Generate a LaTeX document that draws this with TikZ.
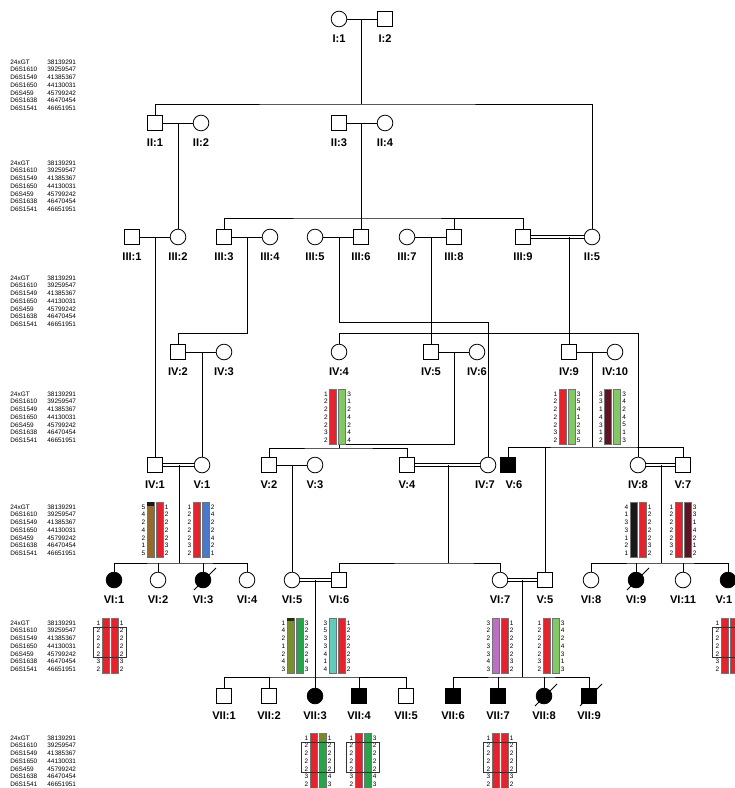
\documentclass[tikz,border=0pt]{standalone}
\usepackage{fontspec}
\setmainfont{Liberation Sans}

\definecolor{hred}{RGB}{230,35,45}
\definecolor{hlgreen}{RGB}{130,200,100}
\definecolor{hmaroon}{RGB}{95,20,35}
\definecolor{hbrown}{RGB}{150,105,45}
\definecolor{hblue}{RGB}{70,120,205}
\definecolor{hblack}{RGB}{25,25,25}
\definecolor{holive}{RGB}{120,145,45}
\definecolor{hgreen}{RGB}{40,165,75}
\definecolor{hturq}{RGB}{95,205,185}
\definecolor{hviolet}{RGB}{190,110,195}

% 个体: [标签偏移]{样式}{名}{x}{y}{标签}
\newcommand{\pers}[6][0]{%
  \node[#2] (#3) at (#4,#5) {};
  \node[lab] (l#3) at (#4+#1,#5+19.5) {#6};}

% 单倍型: {名}{x}{首行y}{左色}{右色}{左}{右}
\newcommand{\hap}[7]{%
  \filldraw[bar, fill=#4] (#2-8,#3-5) rectangle (#2-1,#3+50);
  \filldraw[bar, fill=#5] (#2+1,#3-5) rectangle (#2+8,#3+50);
  \foreach \al [count=\i from 0] in {#6}
    \node[allele, anchor=east] (#1l\i) at (#2-9.5,#3+7.7*\i) {\al};
  \foreach \al [count=\i from 0] in {#7}
    \node[allele, anchor=west] (#1r\i) at (#2+9.5,#3+7.7*\i) {\al};}

% 框
\newcommand{\hapbox}[2]{%
  \draw[hbox] (#1-16.5,#2+3.85) rectangle (#1+16.5,#2+34.65);}

% 标记
\newcommand{\markers}[1]{%
  \foreach \mk/\ps [count=\i from 0] in {24xGT/38139291,D6S1610/39259547,D6S1549/41385367,D6S1650/44130031,D6S459/45799242,D6S1638/46470454,D6S1541/46651951}{%
    \node[marker] (mk#1n\i) at (10,#1+7.7*\i) {\mk};
    \node[marker] (mk#1p\i) at (47,#1+7.7*\i) {\ps};}}

\begin{document}
\begin{tikzpicture}[x=0.03cm, y=-0.03cm, line width=0.7pt,
  male/.style={draw, rectangle, minimum size=0.45cm, inner sep=0pt, fill=white},
  female/.style={draw, circle, minimum size=0.47cm, inner sep=0pt, fill=white},
  aff/.style={fill=black},
  lab/.style={font=\fontsize{9.5}{10}\selectfont\bfseries, inner sep=0pt},
  allele/.style={font=\fontsize{5.5}{6}\selectfont, inner sep=0pt},
  marker/.style={font=\fontsize{5.5}{6}\selectfont, inner sep=0pt, anchor=west},
  bar/.style={draw=black!55, line width=0.25pt},
  hbox/.style={draw=black!80, line width=0.5pt},
  dbl/.style={double, double distance=1.5pt, line width=0.75pt},
  slash/.style={line width=0.8pt}]
\useasboundingbox (0,0) rectangle (735,788);
\clip (0,0) rectangle (735,788);

% 标记图例
\markers{62}
\markers{163}
\markers{278}
\markers{394}
\markers{507}
\markers{623}
\markers{738}

% 第一代
\pers{female}{I1}{339}{19}{I:1}
\pers{male}{I2}{385}{19}{I:2}

% 第二代
\pers{male}{II1}{155}{123}{II:1}
\pers{female}{II2}{201}{123}{II:2}
\pers{male}{II3}{339}{123}{II:3}
\pers{female}{II4}{385}{123}{II:4}

% 第三代
\pers{male}{III1}{132}{237}{III:1}
\pers{female}{III2}{178}{237}{III:2}
\pers{male}{III3}{224}{237}{III:3}
\pers{female}{III4}{270}{237}{III:4}
\pers{female}{III5}{315}{237}{III:5}
\pers{male}{III6}{361}{237}{III:6}
\pers{female}{III7}{407}{237}{III:7}
\pers{male}{III8}{454}{237}{III:8}
\pers{male}{III9}{523}{237}{III:9}
\pers{female}{II5}{592}{237}{II:5}

% 第四代
\pers{male}{IV2}{178}{352}{IV:2}
\pers{female}{IV3}{224}{352}{IV:3}
\pers{female}{IV4}{339}{352}{IV:4}
\pers{male}{IV5}{431}{352}{IV:5}
\pers{female}{IV6}{477}{352}{IV:6}
\pers{male}{IV9}{569}{352}{IV:9}
\pers{female}{IV10}{615}{352}{IV:10}

% 第五代
\pers{male}{IV1}{155}{465}{IV:1}
\pers{female}{V1}{202}{465}{V:1}
\pers{male}{V2}{269}{465}{V:2}
\pers{female}{V3}{315}{465}{V:3}
\pers{male}{V4}{407}{465}{V:4}
\pers[-3]{female}{IV7}{488}{465}{IV:7}
\pers[6]{male,aff}{V6}{508}{465}{V:6}
\pers{female}{IV8}{638}{465}{IV:8}
\pers{male}{V7}{683}{465}{V:7}

% 第六代
\pers{female,aff}{VI1}{114}{580}{VI:1}
\pers{female}{VI2}{158}{580}{VI:2}
\pers{female,aff}{VI3}{203}{580}{VI:3}
\pers{female}{VI4}{247}{580}{VI:4}
\pers{female}{VI5}{292}{580}{VI:5}
\pers{male}{VI6}{339}{580}{VI:6}
\pers{female}{VI7}{500}{580}{VI:7}
\pers{male}{V5}{545}{580}{V:5}
\pers{female}{VI8}{591}{580}{VI:8}
\pers{female,aff}{VI9}{636}{580}{VI:9}
\pers{female}{VI11}{683}{580}{VI:11}
\pers[-4]{female,aff}{VI12}{728}{580}{V:1}

% 第七代
\pers{male}{VII1}{224}{696}{VII:1}
\pers{male}{VII2}{269}{696}{VII:2}
\pers{female,aff}{VII3}{315}{696}{VII:3}
\pers{male,aff}{VII4}{359}{696}{VII:4}
\pers{male}{VII5}{406}{696}{VII:5}
\pers{male,aff}{VII6}{453}{696}{VII:6}
\pers{male,aff}{VII7}{498}{696}{VII:7}
\pers{female,aff}{VII8}{544}{696}{VII:8}
\pers{male,aff}{VII9}{589}{696}{VII:9}

% 死亡斜线
\draw[slash] (VI3) ++(-9,10) -- ++(22,-22);
\draw[slash] (VI9) ++(-9,10) -- ++(22,-22);
\draw[slash] (VII8) ++(-9,10) -- ++(22,-22);
\draw[slash] (VII9) ++(-9,10) -- ++(22,-22);

% I -> II
\draw (I1) -- (I2);
\coordinate (mI) at (361,19);
\coordinate (sII) at (361,104);
\draw (mI) -- (sII);
\draw (II1) |- (sII) -| (II5);

% II -> III
\draw (II1) -- (II2);
\draw (II3) -- (II4);
\coordinate (mII12) at (178,123);
\draw (mII12) -- (III2);
\coordinate (mII34) at (361,123);
\coordinate (sIII) at (361,218);
\draw (mII34) -- (III6);
\draw (III3) |- (sIII) -| (III9);
\draw (III8) -- (III8 |- sIII);

% III -> IV
\draw (III1) -- (III2);
\draw (III3) -- (III4);
\draw (III5) -- (III6);
\draw (III7) -- (III8);
\draw[dbl] (III9) -- (II5);
\coordinate (mIII12) at (155,237);
\draw (mIII12) -- (IV1);
\coordinate (mIII34) at (247,237);
\coordinate (tIV2) at (247,333);
\draw (mIII34) -- (tIV2) -| (IV2);
\coordinate (mIII56) at (339,237);
\coordinate (tIV7) at (339,322);
\draw (mIII56) -- (tIV7) -| (IV7);
\coordinate (mIII78) at (431,237);
\draw (mIII78) -- (IV5);
\coordinate (mIII9) at (569,237);
\draw (mIII9) -- (IV9);
\coordinate (sIV) at (339,333);
\draw (IV4) -- (sIV) -| (IV8);

% IV -> V
\draw (IV2) -- (IV3);
\draw (IV5) -- (IV6);
\draw (IV9) -- (IV10);
\coordinate (mIV23) at (202,352);
\draw (mIV23) -- (V1);
\coordinate (mIV56) at (454,352);
\coordinate (bIV4) at (339,444);
\draw (mIV56) |- (bIV4);
\coordinate (sV) at (339,448);
\draw (bIV4) -- (sV);
\draw (V2) |- (sV) -| (V4);
\coordinate (mIV910) at (592,352);
\coordinate (sVr) at (592,447);
\draw (mIV910) -- (sVr);
\draw (V6) |- (sVr) -| (V7);
\draw (V5) -- (V5 |- sVr);

% V -> VI
\draw[dbl] (IV1) -- (V1);
\draw (V2) -- (V3);
\draw[dbl] (V4) -- (IV7);
\draw[dbl] (IV8) -- (V7);
\coordinate (mV1) at (179,465);
\coordinate (sVIl) at (179,563);
\draw (mV1) -- (sVIl);
\draw (VI1) |- (sVIl) -| (VI4);
\draw (VI2) -- (VI2 |- sVIl);
\draw (VI3) -- (VI3 |- sVIl);
\coordinate (mV23) at (292,465);
\draw (mV23) -- (VI5);
\coordinate (mV4) at (448,465);
\coordinate (sVIm) at (448,563);
\draw (mV4) -- (sVIm);
\draw (VI6) |- (sVIm) -| (VI7);
\coordinate (mV7) at (661,465);
\coordinate (sVIr) at (661,563);
\draw (mV7) -- (sVIr);
\draw (VI8) |- (sVIr) -| (VI12);
\draw (VI9) -- (VI9 |- sVIr);
\draw (VI11) -- (VI11 |- sVIr);

% VI -> VII
\draw[dbl] (VI5) -- (VI6);
\draw[dbl] (VI7) -- (V5);
\coordinate (mVI56) at (315,580);
\coordinate (sVIIl) at (315,677);
\draw (mVI56) -- (sVIIl);
\draw (VII1) |- (sVIIl) -| (VII5);
\draw (VII2) -- (VII2 |- sVIIl);
\draw (VII3) -- (VII3 |- sVIIl);
\draw (VII4) -- (VII4 |- sVIIl);
\coordinate (mVI7) at (522,580);
\coordinate (sVIIr) at (522,677);
\draw (mVI7) -- (sVIIr);
\draw (VII6) |- (sVIIr) -| (VII9);
\draw (VII7) -- (VII7 |- sVIIr);
\draw (VII8) -- (VII8 |- sVIIr);

% 单倍型 IV
\hap{hIV4}{337.5}{394}{hred}{hlgreen}{1,2,2,2,2,3,2}{3,1,2,4,2,4,4}
\hap{hIV9}{567}{394}{hred}{hlgreen}{1,2,2,2,2,3,2}{3,5,4,1,2,3,5}
\hap{hIV10}{612.5}{394}{hmaroon}{hlgreen}{3,3,1,4,3,1,2}{3,4,2,4,5,1,3}

% 单倍型 V
\hap{hIV1}{155}{507}{hbrown}{hred}{5,4,2,4,2,1,5}{1,2,2,2,2,3,2}
\fill[hblack] (147,502) rectangle (154,505.5);
\hap{hV1}{201}{507}{hred}{hblue}{1,2,2,2,2,3,2}{2,4,2,2,4,2,1}
\hap{hIV8}{638}{507}{hblack}{hred}{4,1,3,3,1,2,1}{1,2,2,2,2,3,2}
\hap{hV7}{683}{507}{hred}{hmaroon}{1,2,2,2,2,3,2}{3,3,1,4,2,1,2}

% 单倍型 VI
\hap{hVI1}{110}{623}{hred}{hred}{1,2,2,2,2,3,2}{1,2,2,2,2,3,2}
\hapbox{110}{623}
\hap{hVI5}{295}{623}{holive}{hgreen}{1,4,2,1,2,4,3}{3,2,2,2,2,4,3}
\fill[black!70!holive] (287,618) rectangle (294,621);
\hap{hVI6}{337}{623}{hturq}{hred}{3,5,3,3,4,1,4}{1,2,2,2,2,3,2}
\hap{hVI7}{500}{623}{hviolet}{hred}{3,2,2,3,3,4,3}{1,2,2,2,2,3,2}
\hap{hV5}{551}{623}{hred}{hlgreen}{1,2,2,2,2,3,2}{3,4,2,4,3,1,3}
\hap{hVI12}{729}{623}{hred}{hred}{1,2,2,2,2,3,2}{}
\hapbox{729}{623}

% 单倍型 VII
\hap{hVII3}{318}{738}{hred}{hgreen}{1,2,2,2,2,3,2}{1,2,2,2,2,4,3}
\fill[holive!70!hbrown] (319,733) rectangle (326,741);
\hapbox{318}{738}
\hap{hVII4}{363}{738}{hred}{hgreen}{1,2,2,2,2,3,2}{3,2,2,2,2,4,3}
\hapbox{363}{738}
\hap{hVII7}{500}{738}{hred}{hred}{1,2,2,2,2,3,2}{1,2,2,2,2,3,2}
\hapbox{500}{738}
\end{tikzpicture}
\end{document}
